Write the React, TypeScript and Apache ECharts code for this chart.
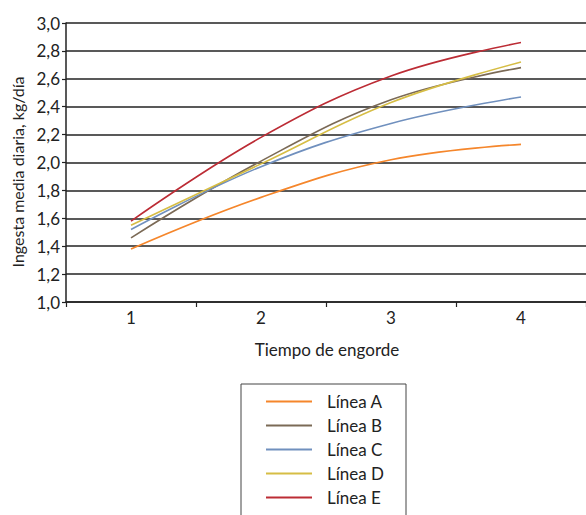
import React, { useEffect, useRef } from "react";
import * as echarts from "echarts";

const categories = ["1", "2", "3", "4"];
const seriesNames = ["Línea A", "Línea B", "Línea C", "Línea D", "Línea E"];
const lineA = [1.38, 1.75, 2.02, 2.13];
const lineB = [1.46, 2.01, 2.45, 2.68];
const lineC = [1.52, 1.97, 2.28, 2.47];
const lineD = [1.55, 1.99, 2.43, 2.72];
const lineE = [1.58, 2.18, 2.62, 2.86];
const colors = ["#F5862B", "#7B6A56", "#7090BE", "#D6BD45", "#BC2C35"];
const yTitle = "Ingesta media diaria, kg/día";
const xTitle = "Tiempo de engorde";

const FONT = "Lato, 'DejaVu Sans', sans-serif";
const H = 545;

export default function App() {
  const ref = useRef<HTMLDivElement>(null);
  useEffect(() => {
    if (!ref.current) return;
    const chart = echarts.init(ref.current, undefined, { renderer: "svg" });
    const data = [lineA, lineB, lineC, lineD, lineE];
    chart.setOption({
      animation: false,
      textStyle: { fontFamily: FONT },
      grid: { left: 66, right: 0, top: 23, bottom: H - 302, containLabel: false },
      xAxis: {
        type: "category",
        data: categories,
        boundaryGap: true,
        axisLine: { show: true, lineStyle: { color: "#222", width: 1.5 } },
        axisTick: { show: true, length: 5, lineStyle: { color: "#222", width: 1.2 } },
        axisLabel: { color: "#222", fontSize: 17, margin: 7, fontFamily: FONT },
        splitLine: { show: false },
      },
      yAxis: {
        type: "value",
        min: 1,
        max: 3,
        interval: 0.2,
        axisLine: { show: true, lineStyle: { color: "#222", width: 1.5 } },
        axisTick: { show: true, length: 4, lineStyle: { color: "#222", width: 1.2 } },
        axisLabel: {
          color: "#222",
          fontSize: 17,
          margin: 6,
          fontFamily: FONT,
          formatter: (v: number) => v.toFixed(1).replace(".", ","),
        },
        splitLine: { show: true, lineStyle: { color: "#222", width: 1.5 } },
      },
      legend: {
        orient: "vertical",
        left: 241,
        top: 384,
        padding: [9, 22, 30, 25],
        itemWidth: 46,
        itemHeight: 14,
        itemGap: 7,
        icon: "path://M0,0L46,0L46,2L0,2Z",
        symbolKeepAspect: true,
        borderColor: "#444",
        borderWidth: 1,
        data: seriesNames,
        textStyle: { color: "#222", fontSize: 17, fontFamily: FONT, padding: [0, 0, 0, 10], width: 60 },
      },
      series: seriesNames.map((name, i) => ({
        name,
        type: "line",
        data: data[i],
        smooth: 0.4,
        symbol: "none",
        showSymbol: false,
        color: colors[i],
        lineStyle: { color: colors[i], width: 1.6 },
      })),
      graphic: [
        {
          type: "text",
          x: 17,
          y: 172,
          rotation: Math.PI / 2,
          style: {
            text: yTitle,
            fontSize: 16,
            fontFamily: FONT,
            fill: "#222",
            textAlign: "center",
            textVerticalAlign: "middle",
          },
        },
        {
          type: "text",
          x: 327,
          y: 349,
          style: {
            text: xTitle,
            fontSize: 17,
            fontFamily: FONT,
            fill: "#222",
            textAlign: "center",
            textVerticalAlign: "middle",
          },
        },
      ],
    });
    return () => chart.dispose();
  }, []);
  return (
    <div
      ref={ref}
      style={{ position: "fixed", left: 0, top: 0, width: 586, height: H, background: "#fff" }}
    />
  );
}
